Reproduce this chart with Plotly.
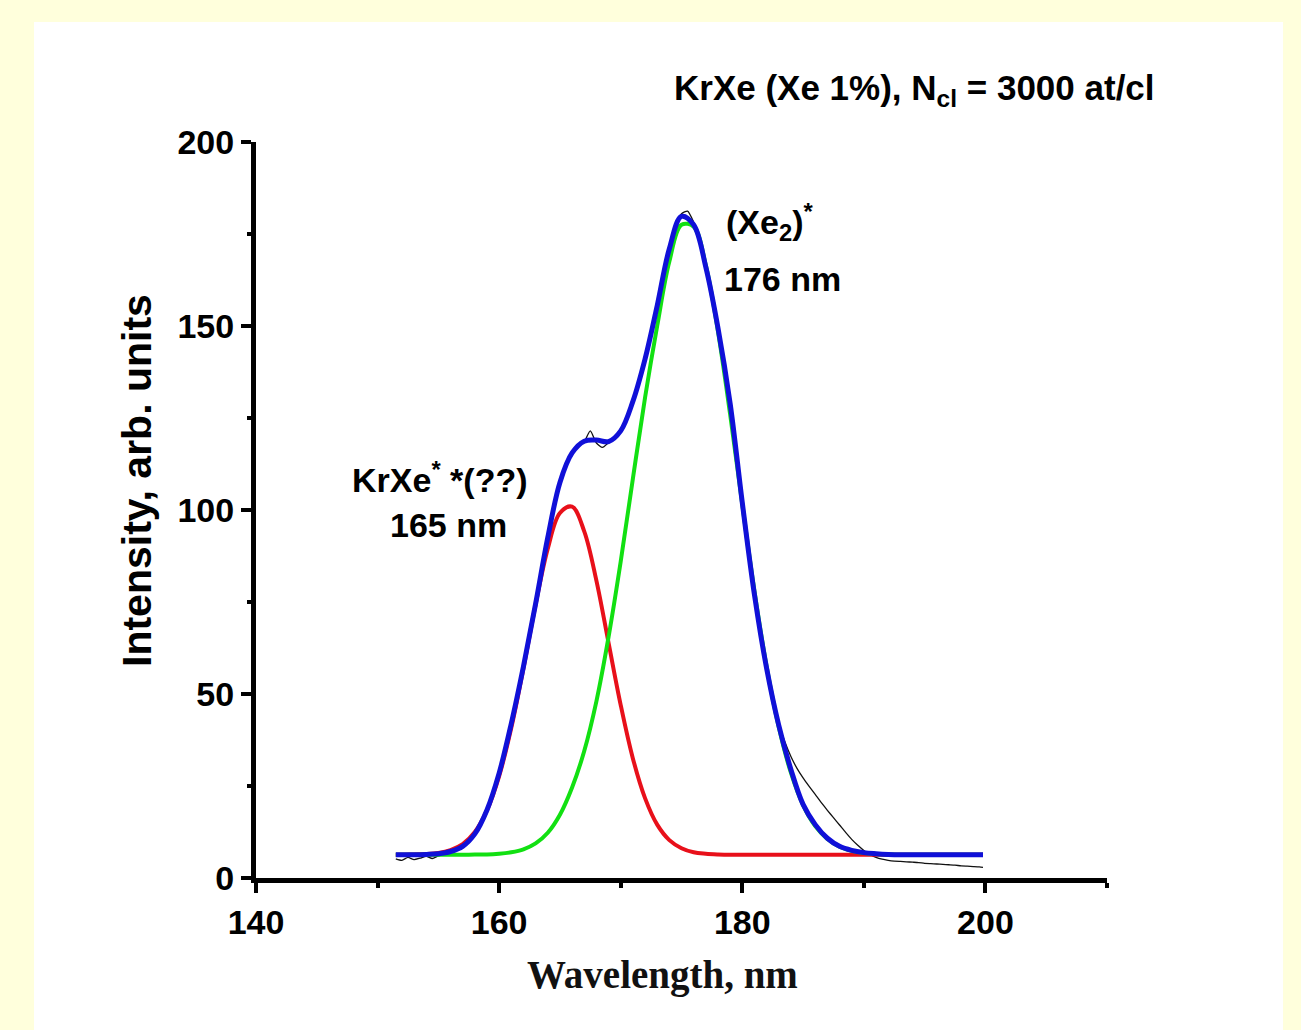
import plotly.graph_objects as go

# ---- data ----
fit_wl = [151.5, 152, 153, 154, 155, 156, 157, 158, 159, 160, 161, 162, 163, 164, 165,
          166, 167, 168, 169, 170, 171, 172, 173, 174, 175, 176, 177, 178, 179, 180,
          181, 182, 183, 184, 185, 186, 187, 188, 189, 190, 191, 192, 193, 194, 195,
          196, 197, 198, 199, 199.8]

red_fit = [6.3, 6.3, 6.4, 6.5, 6.8, 7.6, 9.2, 12.5, 18.4, 27.7, 40.8, 57.0, 74.3, 89.5, 99.2,
           100.9, 94.2, 80.8, 63.9, 47.0, 32.5, 21.7, 14.5, 10.3, 8.1, 7.0, 6.6, 6.4, 6.3, 6.3,
           6.3, 6.3, 6.3, 6.3, 6.3, 6.3, 6.3, 6.3, 6.3, 6.3, 6.3, 6.3, 6.3, 6.3, 6.3,
           6.3, 6.3, 6.3, 6.3, 6.3]

green_fit = [6.3, 6.3, 6.3, 6.3, 6.3, 6.3, 6.3, 6.4, 6.4, 6.6, 7.0, 7.8, 9.4, 12.3, 17.2,
             24.6, 34.5, 48.0, 65.5, 86.0, 108.5, 130.5, 150.0, 167.5, 177.5, 177.0, 166.5, 148.5, 126.0, 101.5,
             78.0, 57.5, 41.0, 28.6, 19.8, 14.1, 10.6, 8.5, 7.4, 6.8, 6.5, 6.4, 6.3, 6.3, 6.3,
             6.3, 6.3, 6.3, 6.3, 6.3]

blue_fit = [6.3, 6.3, 6.3, 6.4, 6.6, 7.2, 8.6, 12.0, 18.5, 28.5, 42.0, 57.5, 74.5, 92.5, 107.5,
            115.5, 118.7, 119.0, 118.6, 121.5, 129.5, 141.0, 155.5, 171.0, 179.8, 177.5, 166.0, 149.5, 129.0, 102.0,
            77.0, 57.0, 41.5, 29.5, 20.0, 14.5, 10.8, 8.6, 7.5, 6.9, 6.6, 6.4, 6.3, 6.3, 6.3,
            6.3, 6.3, 6.3, 6.3, 6.3]

data_wl = [151.5, 152, 152.5, 153, 153.5, 154, 154.5, 155, 155.5, 156, 156.5, 157, 157.5, 158,
           158.5, 159, 159.5, 160, 160.5, 161, 161.5, 162, 162.5, 163, 163.5, 164, 164.5, 165,
           165.5, 166, 166.5, 167, 167.5, 168, 168.5, 169, 169.5, 170, 170.5, 171, 171.5, 172,
           172.5, 173, 173.5, 174, 174.5, 175, 175.5, 176, 176.5, 177, 177.5, 178, 178.5, 179,
           179.5, 180, 180.5, 181, 181.5, 182, 182.5, 183, 183.5, 184, 184.5, 185, 185.5, 186,
           186.5, 187, 187.5, 188, 188.5, 189, 189.5, 190, 190.5, 191, 191.5, 192, 192.5, 193,
           193.5, 194, 194.5, 195, 195.5, 196, 196.5, 197, 197.5, 198, 198.5, 199, 199.5, 199.8]

data_int = [5.2, 4.8, 5.6, 5.0, 5.4, 5.9, 5.3, 6.0, 6.4, 6.9, 7.6, 8.5, 9.9, 11.6,
            14.6, 18.2, 23.0, 28.6, 35.0, 42.3, 49.5, 57.2, 66.0, 74.8, 84.0, 92.8, 100.5, 107.2,
            112.5, 115.8, 117.4, 118.6, 121.5, 118.2, 117.0, 118.3, 119.5, 121.8, 125.0, 129.3, 135.0, 141.3,
            148.0, 155.6, 163.5, 171.4, 177.0, 180.5, 181.2, 178.2, 173.6, 166.8, 158.5, 149.8, 140.0, 129.4,
            116.5, 102.0, 88.5, 77.0, 66.0, 57.3, 49.0, 42.0, 37.0, 33.0, 29.8, 27.2, 24.9, 22.7,
            20.5, 18.4, 16.4, 14.4, 12.4, 10.5, 8.9, 7.5, 6.4, 5.6, 5.1, 4.8, 4.6, 4.5,
            4.4, 4.3, 4.2, 4.0, 3.9, 3.8, 3.7, 3.6, 3.5, 3.3, 3.2, 3.1, 3.0, 2.9]

x_ticks = [140, 160, 180, 200]
y_ticks = [0, 50, 100, 150, 200]

SANS = "Liberation Sans, Arial, sans-serif"
SERIF = "Liberation Serif, Times New Roman, serif"
BG = "#FFFFDC"

fig = go.Figure()
fig.add_trace(go.Scatter(x=data_wl, y=data_int, mode="lines",
                         line=dict(color="#111111", width=1.3, shape="spline", smoothing=0.6),
                         showlegend=False))
fig.add_trace(go.Scatter(x=fit_wl, y=red_fit, mode="lines",
                         line=dict(color="#E8101A", width=4, shape="spline"), showlegend=False))
fig.add_trace(go.Scatter(x=fit_wl, y=green_fit, mode="lines",
                         line=dict(color="#12E012", width=4, shape="spline"), showlegend=False))
fig.add_trace(go.Scatter(x=fit_wl, y=blue_fit, mode="lines",
                         line=dict(color="#1010D8", width=5, shape="spline"), showlegend=False))

L, R, T, B = 256, 194, 142, 152
W, H = 1301, 1030
pw, ph = W - L - R, H - T - B

def px2paper_x(px):
    return (px - L) / pw

def px2paper_y(py):
    return (H - B - py) / ph

fig.add_shape(type="rect", xref="paper", yref="paper", layer="below",
              x0=px2paper_x(34), x1=px2paper_x(1283), y0=px2paper_y(1035), y1=px2paper_y(22),
              fillcolor="white", line=dict(width=0))

fig.update_layout(
    width=W, height=H,
    margin=dict(l=L, r=R, t=T, b=B),
    paper_bgcolor=BG,
    plot_bgcolor="rgba(0,0,0,0)",
    xaxis=dict(range=[140, 210], tickvals=x_ticks, ticktext=[str(v) for v in x_ticks],
               showgrid=False, zeroline=False, showline=True, linecolor="black", linewidth=5,
               ticks="outside", ticklen=10, tickwidth=4, tickcolor="black",
               minor=dict(tickvals=[150, 170, 190, 210], ticks="outside", ticklen=5,
                          tickwidth=4, tickcolor="black"),
               tickfont=dict(family=SANS, size=34, color="black", weight="bold")),
    yaxis=dict(range=[0, 200], tickvals=y_ticks, ticktext=[str(v) for v in y_ticks],
               showgrid=False, zeroline=False, showline=True, linecolor="black", linewidth=5,
               ticks="outside", ticklen=10, tickwidth=4, tickcolor="black",
               minor=dict(tickvals=[25, 75, 125, 175], ticks="outside", ticklen=4,
                          tickwidth=4, tickcolor="black"),
               tickfont=dict(family=SANS, size=34, color="black", weight="bold")),
)

# axis titles (placed as annotations to match the reference position)
fig.add_annotation(xref="paper", yref="paper", x=px2paper_x(662), y=px2paper_y(975),
                   xanchor="center", yanchor="middle", showarrow=False,
                   font=dict(family=SERIF, size=39, color="#111111", weight="bold"),
                   text="Wavelength, nm")
fig.add_annotation(xref="paper", yref="paper", x=px2paper_x(137), y=px2paper_y(481),
                   xanchor="center", yanchor="middle", showarrow=False, textangle=-90,
                   font=dict(family=SANS, size=41, color="black", weight="bold"),
                   text="Intensity, arb. units")

ann_font = dict(family=SANS, size=34, color="black", weight="bold")
fig.add_annotation(xref="paper", yref="paper", x=px2paper_x(672), y=px2paper_y(90),
                   xanchor="left", yanchor="middle", showarrow=False,
                   font=dict(family=SANS, size=35, color="black", weight="bold"),
                   text="KrXe (Xe 1%), N<sub>cl</sub> = 3000 at/cl")
fig.add_annotation(x=178.5, y=178.3, xanchor="left", yanchor="middle", showarrow=False,
                   font=ann_font, text="(Xe<sub>2</sub>)<sup>*</sup>")
fig.add_annotation(x=178.33, y=162.8, xanchor="left", yanchor="middle", showarrow=False,
                   font=ann_font, text="176 nm")
fig.add_annotation(x=155.1, y=108.7, xanchor="center", yanchor="middle", showarrow=False,
                   font=ann_font, text="KrXe<sup>*</sup> *(??)")
fig.add_annotation(x=155.8, y=95.9, xanchor="center", yanchor="middle", showarrow=False,
                   font=ann_font, text="165 nm")

fig.write_html(
    "out.html",
    config={"displayModeBar": False},
    post_script=("document.body.style.margin='0';document.body.style.padding='0';"
                 "document.body.style.overflow='hidden';"
                 "document.body.style.background='" + BG + "';"),
)
